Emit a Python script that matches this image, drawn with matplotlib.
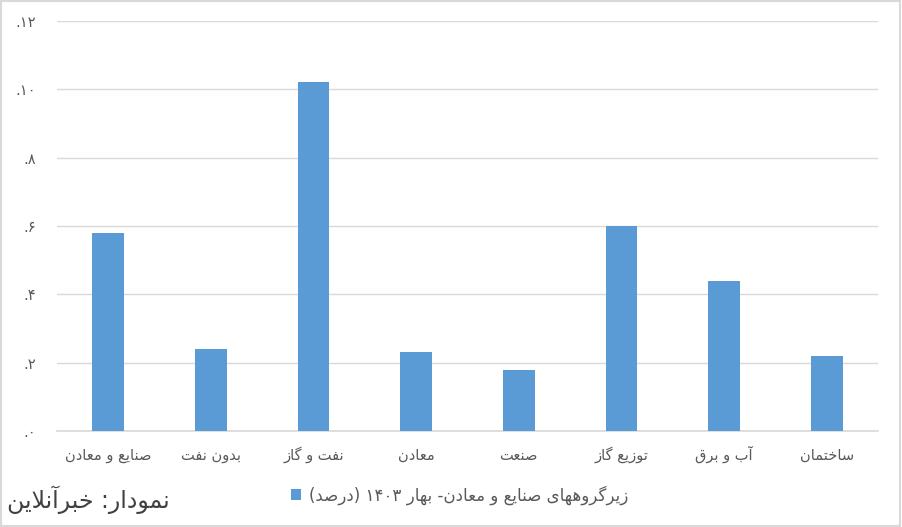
import matplotlib
matplotlib.use("Agg")
import matplotlib.pyplot as plt
from matplotlib.patches import Rectangle, Patch

# ---------------- data ----------------
categories = ["صنایع و معادن", "بدون نفت", "نفت و گاز", "معادن",
              "صنعت", "توزیع گاز", "آب و برق", "ساختمان"]
values = [5.80, 2.40, 10.22, 2.30, 1.78, 6.00, 4.38, 2.19]
yticks = [0, 2, 4, 6, 8, 10, 12]
ytick_labels = [".۰", ".۲", ".۴", ".۶", ".۸", ".۱۰", ".۱۲"]
series_label = "زیرگروههای صنایع و معادن- بهار ۱۴۰۳ (درصد)"
source_text = "نمودار: خبرآنلاین"

# ------------- minimal Arabic shaping + RTL ordering -------------
FORMS = {
    '\u0627': ('\uFE8D', '\uFE8E', None, None),
    '\u0622': ('\uFE81', '\uFE82', None, None),
    '\u0628': ('\uFE8F', '\uFE90', '\uFE91', '\uFE92'),
    '\u062A': ('\uFE95', '\uFE96', '\uFE97', '\uFE98'),
    '\u062E': ('\uFEA5', '\uFEA6', '\uFEA7', '\uFEA8'),
    '\u062F': ('\uFEA9', '\uFEAA', None, None),
    '\u0631': ('\uFEAD', '\uFEAE', None, None),
    '\u0632': ('\uFEAF', '\uFEB0', None, None),
    '\u0633': ('\uFEB1', '\uFEB2', '\uFEB3', '\uFEB4'),
    '\u0635': ('\uFEB9', '\uFEBA', '\uFEBB', '\uFEBC'),
    '\u0639': ('\uFEC9', '\uFECA', '\uFECB', '\uFECC'),
    '\u0641': ('\uFED1', '\uFED2', '\uFED3', '\uFED4'),
    '\u0642': ('\uFED5', '\uFED6', '\uFED7', '\uFED8'),
    '\u0644': ('\uFEDD', '\uFEDE', '\uFEDF', '\uFEE0'),
    '\u0645': ('\uFEE1', '\uFEE2', '\uFEE3', '\uFEE4'),
    '\u0646': ('\uFEE5', '\uFEE6', '\uFEE7', '\uFEE8'),
    '\u0647': ('\uFEE9', '\uFEEA', '\uFEEB', '\uFEEC'),
    '\u0648': ('\uFEED', '\uFEEE', None, None),
    '\u06CC': ('\uFBFC', '\uFBFD', '\uFBFE', '\uFBFF'),
    '\u06AF': ('\uFB92', '\uFB93', '\uFB94', '\uFB95'),
    'LA': ('\uFEFB', '\uFEFC', None, None),
    'LAA': ('\uFEF5', '\uFEF6', None, None),
}
MIRROR = {'(': ')', ')': '(', '[': ']', ']': '['}
DIGITS = set('۰۱۲۳۴۵۶۷۸۹0123456789')


def rtl(s):
    units = []
    i = 0
    while i < len(s):
        ch = s[i]
        if ch == '\u0644' and i + 1 < len(s) and s[i + 1] in ('\u0627', '\u0622'):
            units.append('LA' if s[i + 1] == '\u0627' else 'LAA')
            i += 2
        else:
            units.append(ch)
            i += 1
    out = []
    for k, u in enumerate(units):
        if u in FORMS:
            f = FORMS[u]
            jp = k > 0 and units[k - 1] in FORMS and FORMS[units[k - 1]][2] is not None
            jn = f[2] is not None and k + 1 < len(units) and units[k + 1] in FORMS
            idx = 3 if (jp and jn) else 1 if jp else 2 if jn else 0
            out.append(f[idx])
        else:
            out.append(u)
    vis = [MIRROR.get(c, c) for c in reversed(out)]
    res = []
    run = []
    for c in vis:
        if c in DIGITS:
            run.append(c)
        else:
            if run:
                res.extend(reversed(run))
                run = []
            res.append(c)
    if run:
        res.extend(reversed(run))
    return ''.join(res)


# ---------------- figure ----------------
plt.rcParams['font.family'] = ['DejaVu Sans']
W, H = 902, 527
fig = plt.figure(figsize=(W / 100, H / 100), dpi=100)
ax = fig.add_axes([57 / W, 1 - 431 / H, (878 - 57) / W, 410 / H])

x = list(range(len(categories)))
ax.bar(x, values, width=0.31, color='#5B9BD5', zorder=3,
       label=rtl(series_label))

ax.set_xlim(-0.5, len(categories) - 0.5)
ax.set_ylim(0, 12)
ax.set_yticks(yticks)
ax.set_yticklabels(ytick_labels)
ax.set_xticks(x)
ax.set_xticklabels([rtl(c) for c in categories])

ax.grid(axis='y', color='#D9D9D9', linewidth=1.0, zorder=0)
for sp in ['top', 'right', 'left']:
    ax.spines[sp].set_visible(False)
ax.spines['bottom'].set_color('#D9D9D9')
ax.spines['bottom'].set_linewidth(1.2)
ax.tick_params(axis='both', length=0, colors='#595959', labelsize=10.5)
ax.tick_params(axis='y', pad=15)
ax.tick_params(axis='x', pad=21)
for lbl in ax.get_xticklabels():
    lbl.set_va('baseline')

handle = Patch(facecolor='#5B9BD5', edgecolor='none')
fig.legend([handle], [rtl(series_label)], loc='center',
           bbox_to_anchor=(460 / W, 1 - 495 / H), frameon=False,
           fontsize=12, labelcolor='#595959',
           handlelength=0.6, handleheight=0.6, handletextpad=0.5)

fig.text(7 / W, 1 - 500 / H, rtl(source_text), fontsize=17,
         color='#404040', ha='left', va='center')

fig.patches.append(Rectangle((0.001, 0.001), 0.997, 0.997,
                             transform=fig.transFigure, fill=False,
                             edgecolor='#D9D9D9', linewidth=1.5))

fig.savefig('out.png', dpi=100)
